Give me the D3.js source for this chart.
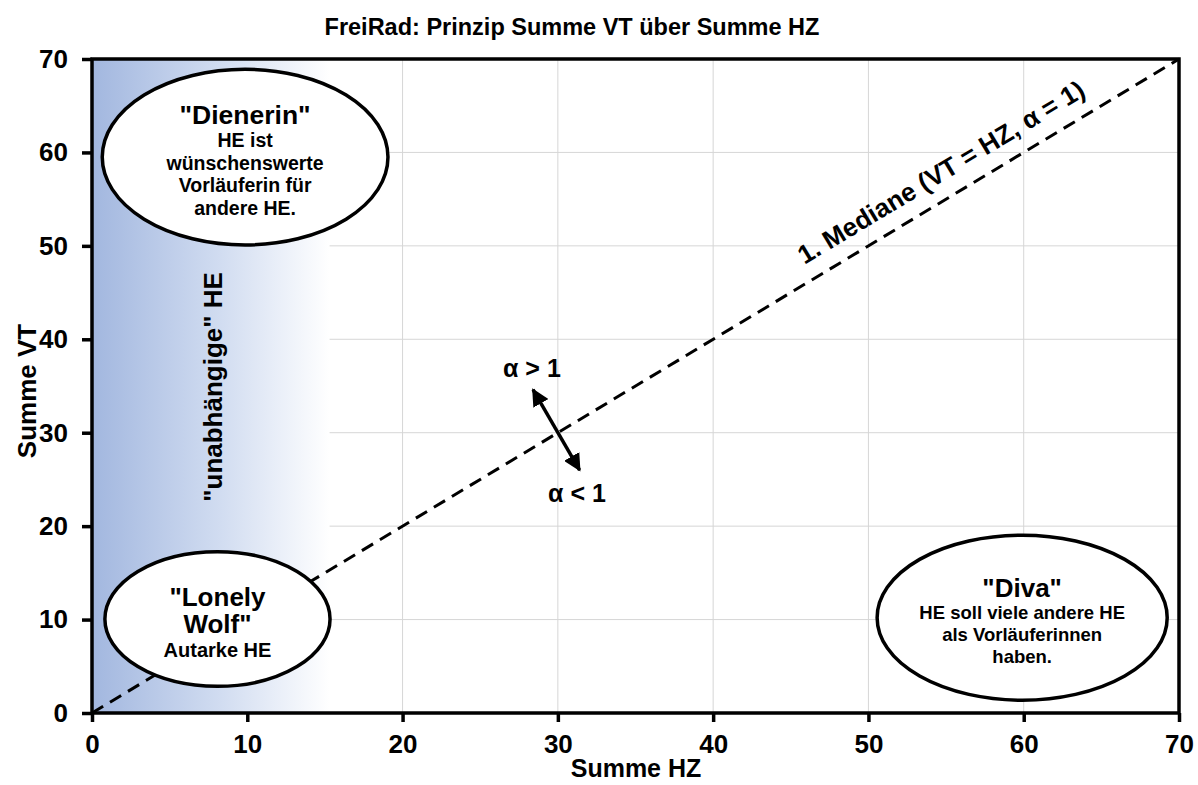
<!DOCTYPE html>
<html><head><meta charset="utf-8">
<script src="https://cdn.jsdelivr.net/npm/d3@7"></script>
<style>body{margin:0;background:#fff}svg{display:block}text{font-family:"Liberation Sans",Arial,sans-serif;font-weight:bold;fill:#000}</style>
</head><body><svg id="c" width="1198" height="785"></svg>
<script>
const xTicks=[0,10,20,30,40,50,60,70];
const yTicks=[0,10,20,30,40,50,60,70];
const medianLine=[[0,0],[70,70]];
const shadeRange=[0,15.3];
const ellipseCx=[9.86,8.08,59.9];
const ellipseCy=[59.5,10.06,10.2];
const ellipseRx=[9.2,7.25,9.34];
const ellipseRy=[9.4,7.2,8.83];
const ellipseTitles=[['"Dienerin"'],['"Lonely','Wolf"'],['"Diva"']];
const ellipseBodies=[['HE ist','wünschenswerte','Vorläuferin für','andere HE.'],['Autarke HE'],['HE soll viele andere HE','als Vorläuferinnen','haben.']];
const arrowStart=[28.4,34.6], arrowEnd=[31.4,26.0];
const alphaLabels=['α > 1','α < 1'];
const alphaPos=[[28.33,36.9],[31.23,23.55]];
const medianLabelPos=[54.67,57.9];
const shadeLabelPos=[7.79,34.9];

const svg=d3.select('#c');
const L=92,R=1179,T=59,B=713;
const x=d3.scaleLinear().domain([0,70]).range([L,R]);
const y=d3.scaleLinear().domain([0,70]).range([B,T]);

svg.append('text').attr('x',572).attr('y',35).attr('text-anchor','middle').style('font-size','23.5px').text('FreiRad: Prinzip Summe VT über Summe HZ');

// grid
const g=svg.append('g');
g.selectAll('.gx').data(xTicks).join('line').attr('x1',d=>x(d)).attr('x2',d=>x(d)).attr('y1',T).attr('y2',B).attr('stroke','#d6d6d6').attr('stroke-width',1);
g.selectAll('.gy').data(yTicks).join('line').attr('y1',d=>y(d)).attr('y2',d=>y(d)).attr('x1',L).attr('x2',R).attr('stroke','#d6d6d6').attr('stroke-width',1);

// gradient
const defs=svg.append('defs');
const lg=defs.append('linearGradient').attr('id','sh').attr('x1','0').attr('x2','1').attr('y1','0').attr('y2','0');
lg.append('stop').attr('offset','0').attr('stop-color','#a2b7df');
lg.append('stop').attr('offset','0.55').attr('stop-color','#d2ddf1');
lg.append('stop').attr('offset','1').attr('stop-color','#ffffff');
svg.append('rect').attr('x',x(shadeRange[0])).attr('y',T).attr('width',x(shadeRange[1])-x(shadeRange[0])).attr('height',B-T).attr('fill','url(#sh)');

// median line
svg.append('path').attr('d',d3.line().x(d=>x(d[0])).y(d=>y(d[1]))(medianLine)).attr('stroke','#000').attr('stroke-width',3).attr('stroke-dasharray','13,8').attr('fill','none');

// median label
const ang=-Math.atan((B-T)/(R-L))*180/Math.PI;
svg.append('text').attr('transform',`translate(${x(medianLabelPos[0])},${y(medianLabelPos[1])}) rotate(${ang})`).attr('text-anchor','middle').attr('dy','0.35em').style('font-size','26px').text('1. Mediane (VT = HZ, α = 1)');

// vertical label
svg.append('text').attr('transform',`translate(${x(shadeLabelPos[0])},${y(shadeLabelPos[1])}) rotate(-90)`).attr('text-anchor','middle').attr('dy','0.35em').style('font-size','26px').text('"unabhängige" HE');

// ellipses
const titleSize=[26.5,26,26], bodySize=[19.5,20,18.5];
ellipseCx.forEach((cx,i)=>{
  const px=x(cx), py=y(ellipseCy[i]);
  svg.append('ellipse').attr('cx',px).attr('cy',py).attr('rx',x(ellipseRx[i])-x(0)).attr('ry',y(0)-y(ellipseRy[i])).attr('fill','#fff').attr('stroke','#000').attr('stroke-width',3.5);
  const lines=[];
  ellipseTitles[i].forEach(t=>lines.push({t,s:titleSize[i],h:titleSize[i]*1.06}));
  ellipseBodies[i].forEach(t=>lines.push({t,s:bodySize[i],h:bodySize[i]*1.17}));
  const total=d3.sum(lines,d=>d.h);
  let yy=py-total/2+3;
  lines.forEach(l=>{
    svg.append('text').attr('x',px).attr('y',yy+l.h/2).attr('dy','0.35em').attr('text-anchor','middle').style('font-size',l.s+'px').text(l.t);
    yy+=l.h;
  });
});

// arrow
const mk=defs.append('marker').attr('id','ah').attr('viewBox','0 0 10 10').attr('refX',9).attr('refY',5).attr('markerWidth',5).attr('markerHeight',5).attr('orient','auto-start-reverse').attr('markerUnits','strokeWidth');
mk.append('path').attr('d','M0,0 L10,5 L0,10 z').attr('fill','#000');
svg.append('line').attr('x1',x(arrowStart[0])).attr('y1',y(arrowStart[1])).attr('x2',x(arrowEnd[0])).attr('y2',y(arrowEnd[1])).attr('stroke','#000').attr('stroke-width',3.5).attr('marker-start','url(#ah)').attr('marker-end','url(#ah)');
alphaLabels.forEach((t,i)=>svg.append('text').attr('x',x(alphaPos[i][0])).attr('y',y(alphaPos[i][1])).attr('dy','0.35em').attr('text-anchor','middle').style('font-size','25px').text(t));

// frame
svg.append('rect').attr('x',L).attr('y',T).attr('width',R-L).attr('height',B-T).attr('fill','none').attr('stroke','#000').attr('stroke-width',3.5);

// axes
const xa=svg.append('g').attr('transform',`translate(0,${B})`).call(d3.axisBottom(x).tickValues(xTicks).tickSize(9).tickPadding(13).tickFormat(d3.format('d')));
const ya=svg.append('g').attr('transform',`translate(${L},0)`).call(d3.axisLeft(y).tickValues(yTicks).tickSize(10).tickPadding(14).tickFormat(d3.format('d')));
[xa,ya].forEach(a=>{a.select('.domain').remove();a.selectAll('line').attr('stroke','#000').attr('stroke-width',3.5);a.selectAll('text').style('font-size','26px').style('font-family','"Liberation Sans",Arial,sans-serif').style('font-weight','bold').attr('fill','#000');});

svg.append('text').attr('x',636).attr('y',777).attr('text-anchor','middle').style('font-size','25px').text('Summe HZ');
svg.append('text').attr('transform',`translate(27,${391}) rotate(-90)`).attr('text-anchor','middle').attr('dy','0.35em').style('font-size','26px').text('Summe VT');
</script></body></html>
